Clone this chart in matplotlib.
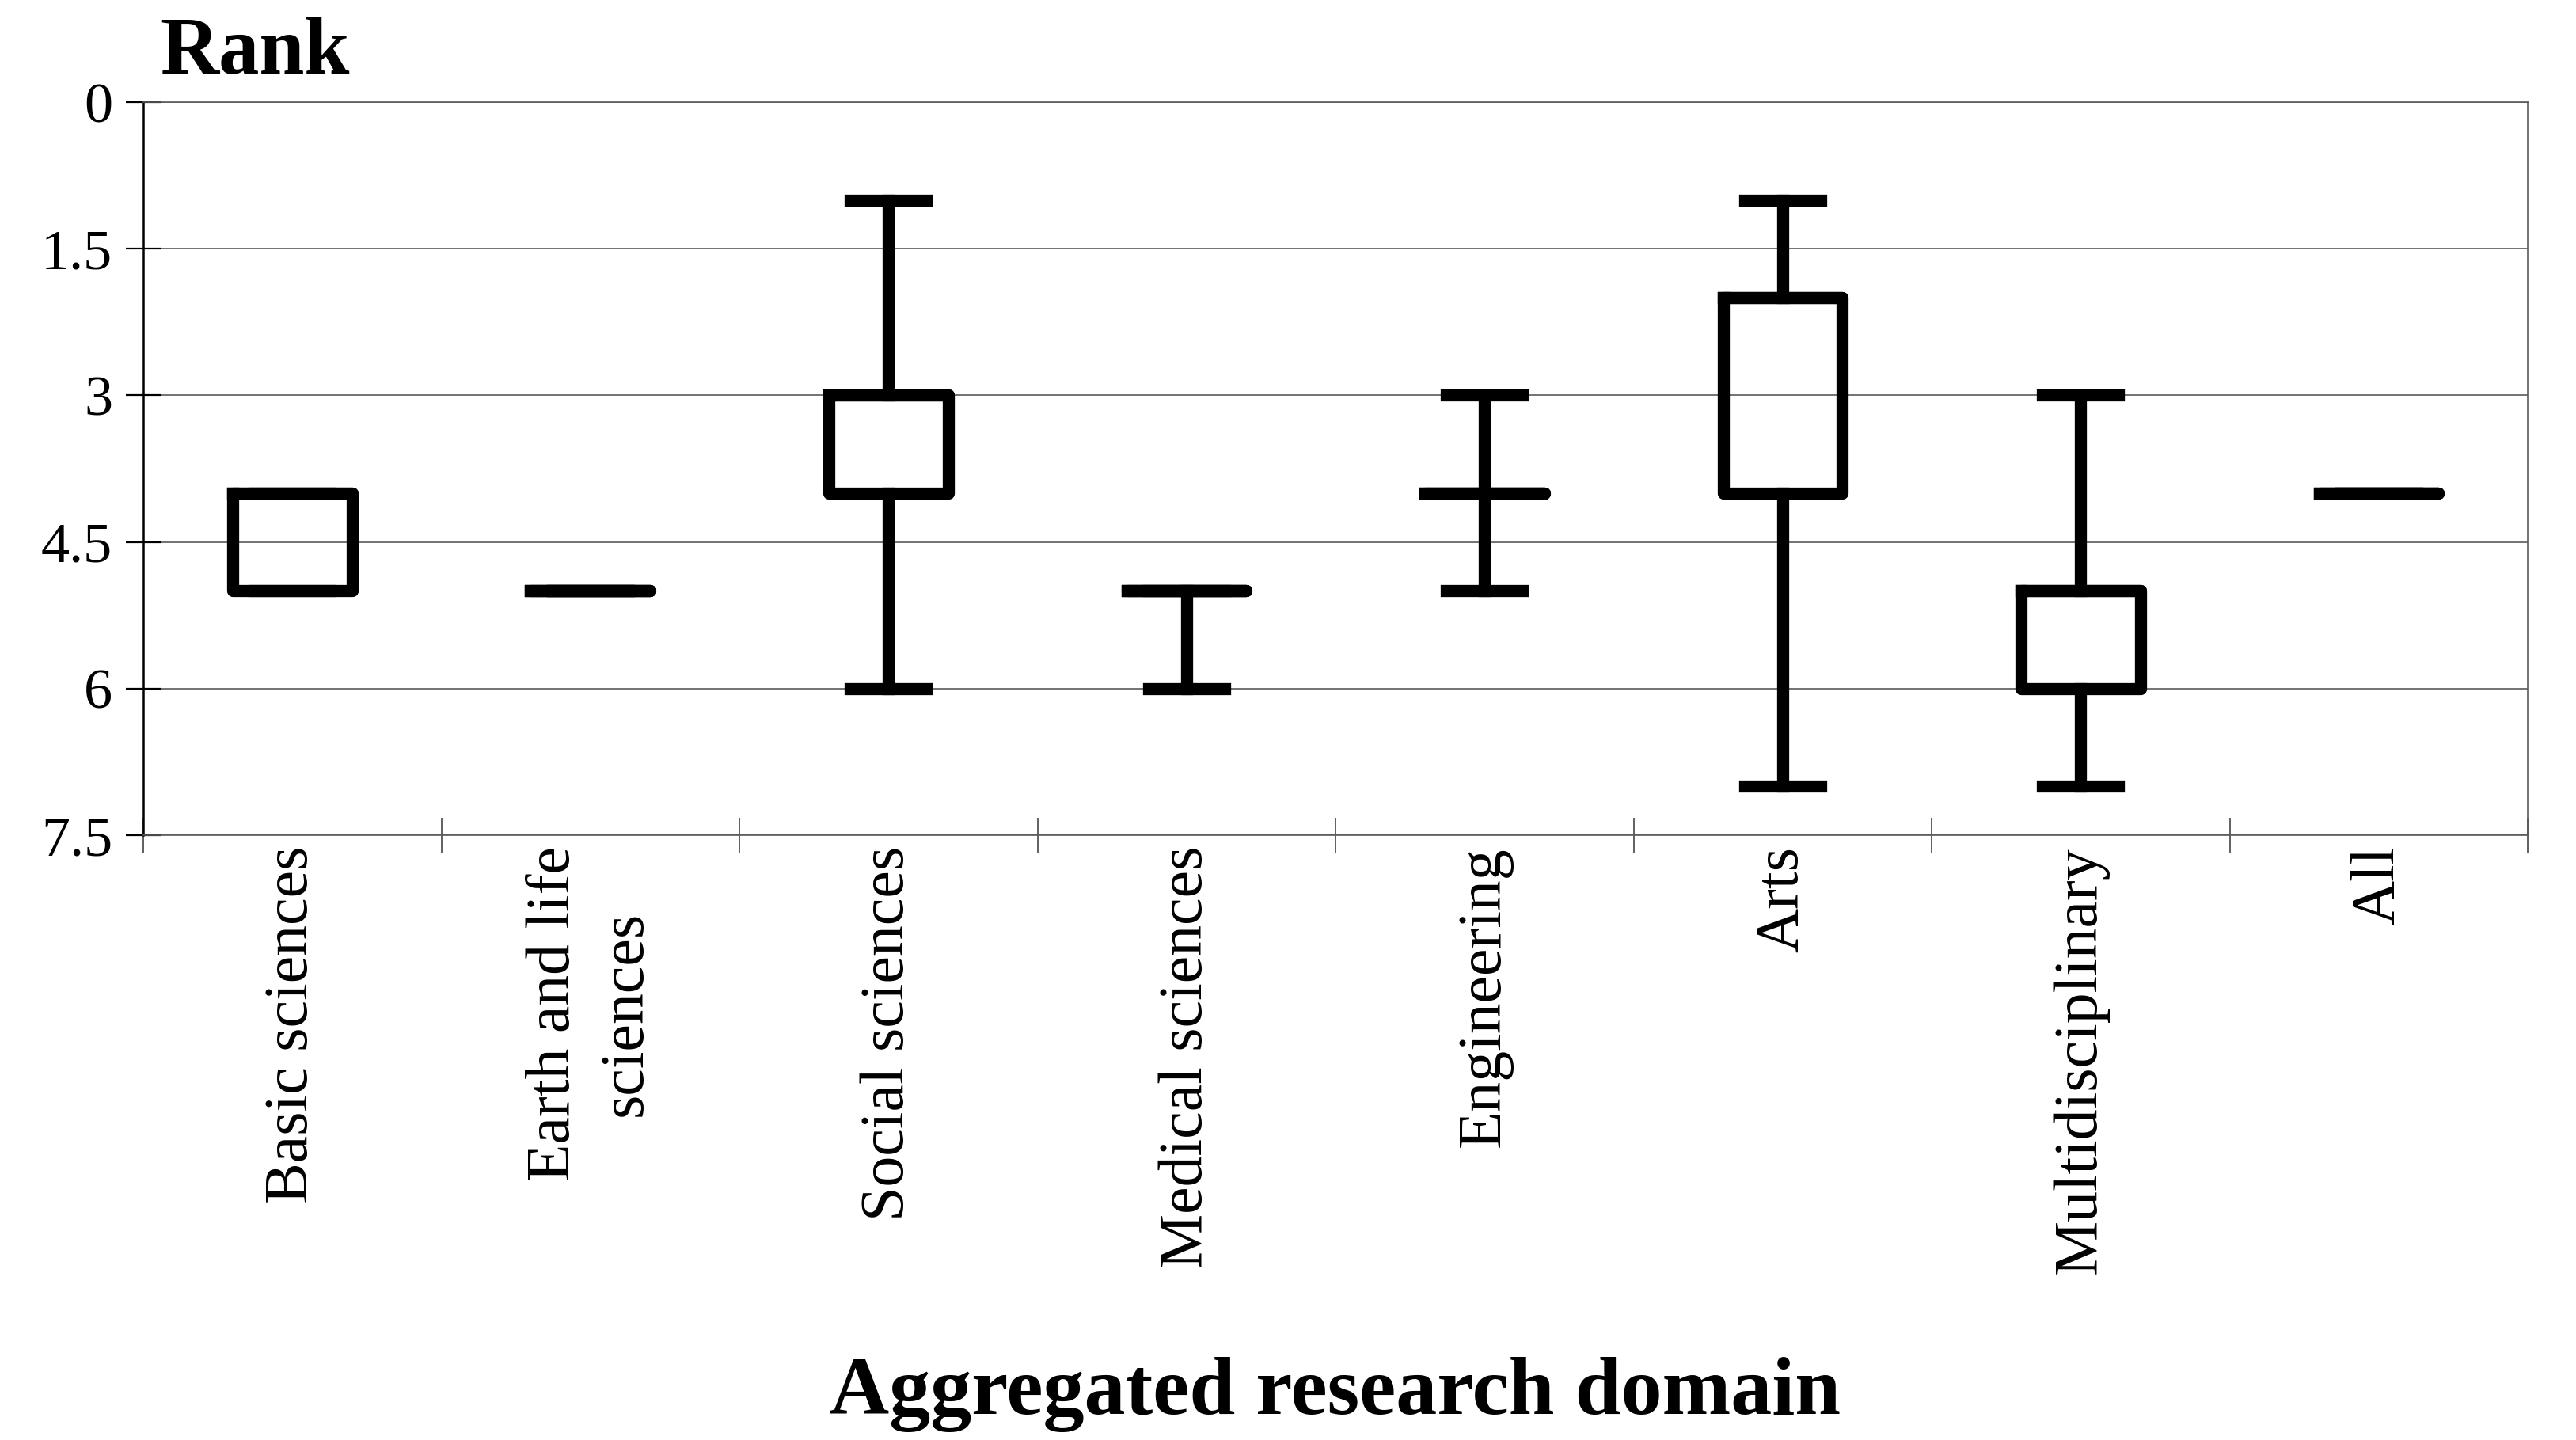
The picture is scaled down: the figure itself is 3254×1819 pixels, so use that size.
import matplotlib
matplotlib.use("Agg")
import matplotlib.pyplot as plt
import numpy as np

# data (rank, lower is better, axis inverted)
domains = ["Basic sciences", "Earth and life\nsciences", "Social sciences",
           "Medical sciences", "Engineering", "Arts", "Multidisciplinary", "All"]
rank_min = [4, 5, 1, 5, 3, 1, 3, 4]
rank_q1 = [4, 5, 3, 5, 4, 2, 5, 4]
rank_med = [4, 5, 3, 5, 4, 2, 5, 4]
rank_q3 = [5, 5, 4, 5, 4, 4, 6, 4]
rank_max = [5, 5, 6, 6, 5, 7, 7, 4]
y_ticks = [0, 1.5, 3, 4.5, 6, 7.5]

plt.rcParams['font.family'] = ['Liberation Serif', 'DejaVu Serif']

fig = plt.figure(figsize=(16.275, 9.095), dpi=200)
ax = fig.add_axes([0.0556, 0.42, 0.981 - 0.0556, 0.929 - 0.42])

stats = []
for lo, q1, med, q3, hi in zip(rank_min, rank_q1, rank_med, rank_q3, rank_max):
    stats.append({"whislo": lo, "q1": q1, "med": med, "q3": q3, "whishi": hi, "fliers": []})

lw = 5.5
pos = np.arange(len(domains))
ax.bxp(stats, positions=pos, widths=0.4, capwidths=0.255, showfliers=False,
       boxprops=dict(color="black", linewidth=lw, solid_joinstyle="round"),
       whiskerprops=dict(color="black", linewidth=lw),
       capprops=dict(color="black", linewidth=lw),
       medianprops=dict(color="black", linewidth=lw, solid_capstyle="round"),
       zorder=3)

ax.set_xlim(-0.5, len(domains) - 0.5)
ax.set_ylim(7.5, 0)
ax.set_yticks(y_ticks)
ax.set_yticklabels(["0", "1.5", "3", "4.5", "6", "7.5"])
ax.yaxis.grid(True, color="#5a5a5a", linewidth=0.6)
ax.set_axisbelow(True)

ax.set_xticks(pos)
ax.set_xticklabels(domains, rotation=90, va="top", ha="center", fontsize=28,
                   linespacing=1.35)
ax.set_xticks(np.arange(-0.5, len(domains)), minor=True)
ax.tick_params(axis="x", which="major", length=0, pad=5)
ax.tick_params(axis="x", which="minor", direction="inout", length=16, width=0.6, color="#444")
ax.tick_params(axis="y", direction="inout", length=16, width=0.8, labelsize=26, pad=6)

for side in ["top", "right", "bottom"]:
    ax.spines[side].set_color("#5a5a5a")
    ax.spines[side].set_linewidth(0.6)
ax.spines["left"].set_color("black")
ax.spines["left"].set_linewidth(0.9)

fig.text(0.062, 0.949, "Rank", fontsize=37, fontweight="bold", va="baseline", ha="left")
fig.text(0.518, 0.018, "Aggregated research domain", fontsize=37.5, fontweight="bold",
         va="baseline", ha="center")

fig.savefig("out.png", dpi=200, facecolor="white")
